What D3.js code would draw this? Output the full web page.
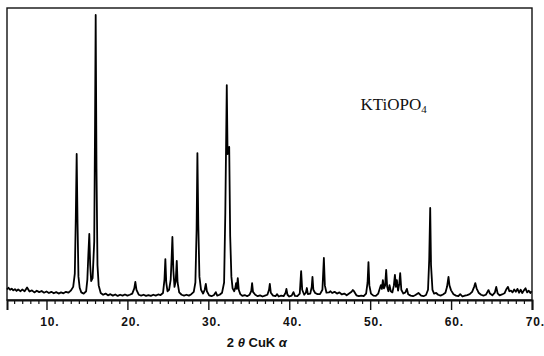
<!DOCTYPE html>
<html>
<head>
<meta charset="utf-8">
<script src="https://cdn.jsdelivr.net/npm/d3@7"></script>
<style>
  body { margin: 0; background: #fff; }
  svg { display: block; }
</style>
</head>
<body>
<figure id="xrd" style="margin:0"></figure>
<script>
// 2-theta (deg) and intensity (% of max)
const twoTheta = [
  5.12, 5.3, 5.5, 5.7, 5.9, 6.1, 6.3, 6.5, 6.8, 7.0, 7.3, 7.6, 7.9, 8.2, 8.5, 8.8, 9.1, 9.4, 9.7, 10.0,
  10.3, 10.6, 10.9, 11.2, 11.5, 11.8, 12.1, 12.4, 12.7, 13.0, 13.3, 13.5, 13.62, 13.73, 13.84, 13.95, 14.1, 14.3, 14.6, 14.9,
  15.05, 15.18, 15.29, 15.4, 15.52, 15.7, 15.9, 16.0, 16.08, 16.18, 16.3, 16.45, 16.7, 17.0, 17.3, 17.6, 17.9, 18.2, 18.5, 18.8,
  19.1, 19.4, 19.7, 20.0, 20.3, 20.6, 20.85, 20.98, 21.12, 21.4, 21.7, 22.0, 22.3, 22.6, 22.9, 23.2, 23.5, 23.8, 24.1, 24.4,
  24.58, 24.69, 24.8, 24.95, 25.15, 25.35, 25.46, 25.56, 25.68, 25.82, 25.97, 26.1, 26.2, 26.4, 26.7, 27.0, 27.3, 27.6, 27.9, 28.2,
  28.4, 28.55, 28.65, 28.76, 28.9, 29.1, 29.35, 29.55, 29.69, 29.82, 30.1, 30.4, 30.7, 30.92, 31.1, 31.4, 31.7, 31.95, 32.1, 32.28,
  32.38, 32.48, 32.58, 32.7, 32.85, 33.0, 33.2, 33.32, 33.43, 33.52, 33.64, 33.76, 33.95, 34.2, 34.5, 34.8, 35.1, 35.3, 35.41, 35.52,
  35.8, 36.1, 36.4, 36.7, 37.0, 37.3, 37.5, 37.6, 37.72, 38.0, 38.3, 38.5, 38.7, 39.0, 39.3, 39.55, 39.65, 39.78, 40.0, 40.3,
  40.52, 40.7, 41.0, 41.3, 41.47, 41.6, 41.85, 42.05, 42.18, 42.3, 42.6, 42.78, 42.87, 42.98, 43.2, 43.5, 43.8, 44.1, 44.28, 44.4,
  44.6, 44.9, 45.1, 45.3, 45.6, 45.9, 46.2, 46.5, 46.8, 47.1, 47.4, 47.7, 47.86, 48.0, 48.3, 48.6, 48.9, 49.2, 49.5, 49.68,
  49.79, 49.9, 50.1, 50.4, 50.7, 51.0, 51.2, 51.33, 51.45, 51.57, 51.7, 51.85, 51.98, 52.1, 52.25, 52.39, 52.55, 52.75, 52.93, 53.06,
  53.18, 53.3, 53.45, 53.6, 53.71, 53.85, 54.1, 54.35, 54.54, 54.7, 55.0, 55.3, 55.6, 55.97, 56.3, 56.6, 56.9, 57.15, 57.3, 57.42,
  57.52, 57.7, 57.9, 58.16, 58.4, 58.7, 59.0, 59.3, 59.5, 59.68, 59.8, 60.0, 60.3, 60.6, 60.9, 61.13, 61.4, 61.7, 62.0, 62.3,
  62.6, 62.85, 62.99, 63.15, 63.4, 63.7, 64.0, 64.3, 64.5, 64.63, 64.8, 65.1, 65.4, 65.58, 65.75, 66.0, 66.3, 66.6, 66.85, 67.03,
  67.2, 67.4, 67.6, 67.8, 68.0, 68.2, 68.4, 68.6, 68.8, 69.0, 69.2, 69.4, 69.6, 69.8, 69.95
];
const intensity = [
  3.6, 4.2, 3.5, 3.9, 3.3, 3.7, 3.1, 3.6, 3.0, 3.6, 3.0, 4.3, 2.9, 3.3, 2.6, 3.2, 2.7, 3.1, 2.5, 2.9,
  2.4, 2.8, 2.3, 2.7, 2.2, 2.6, 2.3, 2.8, 2.5, 3.2, 4.5, 9, 28, 50.0, 26, 8, 4.2, 2.6, 2.2, 3.0,
  7, 16, 22.6, 12, 6.5, 7.5, 20, 60, 97.6, 45, 12, 5, 2.4, 1.8, 2.2, 1.6, 2.0, 1.5, 1.9, 1.4,
  1.8, 1.5, 1.9, 1.5, 1.8, 2.2, 4.0, 6.2, 3.5, 1.8, 1.5, 1.8, 1.4, 1.7, 1.4, 1.8, 1.5, 1.9, 1.7, 2.4,
  7, 14.0, 6, 3.0, 3.5, 7, 14, 21.6, 10, 4.5, 6.5, 13.4, 6, 2.6, 1.8, 1.5, 1.8, 1.5, 2.0, 2.8,
  6, 24, 50.3, 26, 8, 3.5, 2.2, 3.5, 5.5, 3.0, 1.6, 1.3, 1.7, 2.7, 1.5, 1.8, 2.5, 6, 30, 73.6,
  50, 51, 52.4, 22, 8, 4.0, 3.0, 4, 5.8, 3.8, 7.5, 3.5, 2.0, 1.4, 1.7, 1.3, 1.8, 3.0, 5.8, 2.8,
  1.8, 1.3, 1.6, 1.2, 1.5, 1.8, 3.5, 5.5, 2.5, 1.5, 1.3, 2.0, 1.2, 1.5, 1.3, 2.5, 3.8, 1.8, 1.2, 1.5,
  2.7, 1.4, 1.3, 2.2, 9.9, 3.5, 1.8, 2.5, 4.1, 2.0, 2.2, 4.5, 7.9, 3.5, 2.4, 2.0, 2.0, 3.5, 14.4, 5,
  2.5, 2.6, 3.0, 2.4, 2.8, 2.2, 2.6, 1.9, 2.2, 1.6, 2.2, 2.8, 3.4, 3.0, 1.6, 1.3, 1.5, 1.3, 2.2, 6,
  13.0, 5, 2.2, 1.5, 1.4, 2.2, 4.0, 5.1, 3.8, 6.8, 4.0, 5, 10.3, 4.5, 3.0, 5.1, 3.0, 2.6, 5, 8.6,
  4.5, 6.8, 3.2, 5.5, 9.2, 3.5, 2.2, 2.6, 3.8, 2.0, 1.5, 1.3, 1.7, 2.4, 1.5, 1.3, 1.7, 3.5, 14, 31.5,
  12, 3.5, 2.2, 2.4, 1.8, 1.5, 1.9, 2.5, 4.5, 7.9, 5.0, 3.3, 2.0, 1.5, 1.3, 2.0, 1.2, 1.5, 1.7, 2.0,
  2.8, 4.5, 5.8, 4.0, 2.5, 1.8, 1.5, 1.8, 2.8, 3.4, 2.2, 1.6, 2.5, 4.5, 2.3, 1.6, 1.9, 2.3, 3.8, 4.5,
  3.0, 3.2, 2.6, 3.6, 2.8, 3.8, 2.5, 3.5, 2.4, 3.3, 4.0, 2.6, 3.2, 2.4, 3.0
];
const majorTicks = [10, 20, 30, 40, 50, 60, 70];
const minorTicks = d3.range(6, 70).filter(d => d % 10 !== 0);

const W = 544, H = 356;
const plotLeft = 7, plotRight = 532, plotTop = 8, plotBottom = 300;

const svg = d3.select("figure#xrd")
  .append("svg")
  .attr("width", W)
  .attr("height", H);

const x = d3.scaleLinear().domain([5.12, 70]).range([plotLeft, plotRight]);
const y = d3.scaleLinear().domain([0, 100]).range([plotBottom, plotTop]);

// frame
svg.append("rect")
  .attr("x", plotLeft).attr("y", plotTop)
  .attr("width", plotRight - plotLeft).attr("height", plotBottom - plotTop)
  .attr("fill", "none").attr("stroke", "#111").attr("stroke-width", 1.4);

// minor ticks
svg.append("g")
  .attr("transform", "translate(0," + plotBottom + ")")
  .call(d3.axisBottom(x).tickValues(minorTicks).tickSize(4).tickFormat(""))
  .call(g => g.select(".domain").remove())
  .selectAll("line").attr("stroke", "#111").attr("stroke-width", 1.2);

// major ticks + labels
const ax = svg.append("g")
  .attr("transform", "translate(0," + plotBottom + ")")
  .call(d3.axisBottom(x).tickValues(majorTicks).tickSize(10).tickPadding(7).tickFormat(d => d + "."));
ax.select(".domain").attr("stroke", "#111").attr("stroke-width", 2);
ax.selectAll("line").attr("stroke", "#111").attr("stroke-width", 1.4);
ax.selectAll("text")
  .attr("text-anchor", "start")
  .attr("dx", "-0.56em")
  .style("font-family", "'Liberation Sans', Arial, sans-serif")
  .style("font-size", "12px")
  .style("font-weight", "bold")
  .style("letter-spacing", "0.8px")
  .attr("fill", "#111");

// diffraction pattern
const pts = twoTheta.map((t, i) => [t, intensity[i]]);
svg.append("path")
  .datum(pts)
  .attr("fill", "none")
  .attr("stroke", "#000")
  .attr("stroke-width", 1.8)
  .attr("stroke-linejoin", "round")
  .attr("d", d3.line().x(d => x(d[0])).y(d => y(d[1])));

// x axis title
const xt = svg.append("text")
  .attr("x", x(36))
  .attr("y", 347)
  .attr("text-anchor", "middle")
  .style("font-family", "'Liberation Sans', Arial, sans-serif")
  .style("font-size", "13px")
  .style("font-weight", "bold")
  .attr("fill", "#111");
xt.append("tspan").text("2 ");
xt.append("tspan").style("font-style", "italic").text("θ");
xt.append("tspan").text(" CuK ");
xt.append("tspan").style("font-style", "italic").text("α");

// compound label
const lab = svg.append("text")
  .attr("x", x(48.8))
  .attr("y", y(65))
  .style("font-family", "'Liberation Serif', 'Times New Roman', serif")
  .style("font-size", "17px")
  .attr("fill", "#111");
lab.append("tspan").text("KTiOPO");
lab.append("tspan").attr("dy", 3).style("font-size", "11px").text("4");
</script>
</body>
</html>
